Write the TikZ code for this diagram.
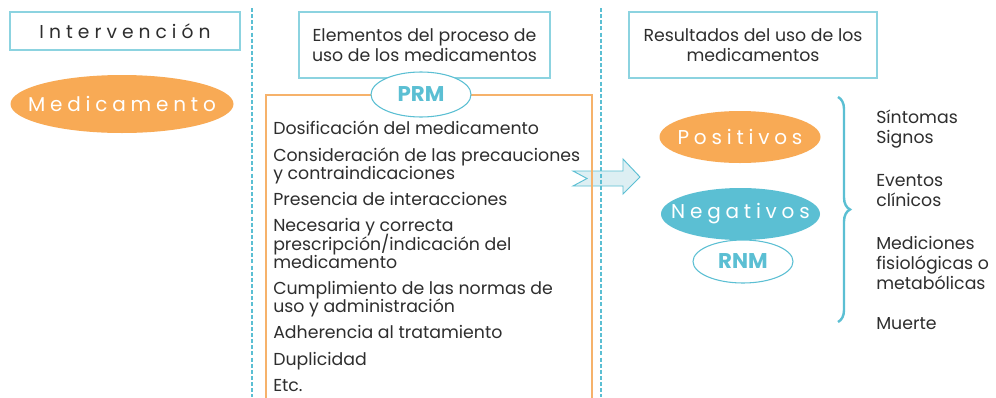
\documentclass[tikz,border=0pt]{standalone}
\usepackage{fontspec}
\setmainfont{Poppins}
\usetikzlibrary{shapes.geometric,decorations.pathreplacing}
\definecolor{cyanline}{HTML}{5BBFD3}
\definecolor{boxline}{HTML}{8CD3E0}
\definecolor{orangefill}{HTML}{F8AA55}
\definecolor{orangeline}{HTML}{F6B26B}
\definecolor{textgrey}{HTML}{2E2E2E}
\definecolor{arrowfill}{HTML}{DDEFF3}

\tikzset{
  titlebox/.style={draw=boxline, line width=0.9pt, align=center, text=textgrey,
    font=\fontsize{13}{15}\selectfont},
  bigoval/.style={ellipse, inner sep=0pt,
    label={[text=white, font=\fontsize{15}{17}\selectfont\addfontfeature{LetterSpace=24}]center:#1}},
  tagoval/.style={ellipse, draw=cyanline, fill=white, line width=0.8pt, inner sep=0pt,
    text=cyanline, font=\fontsize{16}{18}\selectfont\bfseries},
  listtext/.style={inner sep=0pt, align=left, text=textgrey},
  divider/.style={cyanline, line width=2.2pt, dash pattern=on 3pt off 1.6pt}
}

\begin{document}
\setlength{\lineskiplimit}{-20pt}
\begin{tikzpicture}[x=0.75pt,y=-0.75pt]
    \useasboundingbox (0,0) rectangle (996,397);
    \fill[white] (0,0) rectangle (996,397);
    % column titles
    \node[titlebox, minimum width=172.5pt, minimum height=28.5pt,
      font=\fontsize{14}{16}\selectfont\addfontfeature{LetterSpace=27}] (interv) at (125,31) {Intervención};
    \node[titlebox, minimum width=188.25pt, minimum height=49.5pt] (elem) at (424.5,45)
      {Elementos del proceso de\\uso de los medicamentos};
    \node[titlebox, minimum width=186pt, minimum height=49.5pt] (result) at (753,45)
      {Resultados del uso de los\\medicamentos};
    \node[bigoval=Medicamento, fill=orangefill, minimum width=167.25pt, minimum height=43.5pt] (medic) at (122,104) {};
    % arrow
    \draw[cyanline, fill=arrowfill, line width=0.7pt] (573,171) -- (623,171) -- (623,159) -- (640,177)
      -- (623,194) -- (623,186) -- (573,186) -- (587,178.5) -- cycle;
    % dashed dividers
    \draw[divider] (252,8) -- (252,397);
    \draw[divider] (601,8) -- (601,397);
    % process list
    \draw[orangeline, line width=0.8pt] (266,400) -- (266,95) -- (592,95) -- (592,400);
    \node[tagoval, minimum width=75pt, minimum height=33.75pt] (prm) at (421,94.5) {PRM};
    \node[listtext, anchor=north west, font=\fontsize{13}{13.6}\selectfont] (items) at (273,121)
      {Dosificación del medicamento\\[6.1pt]
       Consideración de las precauciones\\y contraindicaciones\\[6.1pt]
       Presencia de interacciones\\[6.1pt]
       Necesaria y correcta\\prescripción/indicación del\\medicamento\\[6.1pt]
       Cumplimiento de las normas de\\uso y administración\\[6.1pt]
       Adherencia al tratamiento\\[6.1pt]
       Duplicidad\\[6.1pt]
       Etc.};
    % outcomes
    \node[bigoval=Positivos, fill=orangefill, minimum width=120.75pt, minimum height=39pt] (posit) at (740,137) {};
    \node[bigoval=Negativos, fill=cyanline, minimum width=119.25pt, minimum height=39pt] (negat) at (740.5,214) {};
    \node[tagoval, minimum width=75pt, minimum height=32.25pt] (rnm) at (743,261.5) {RNM};
    \coordinate (bracetop) at (838,97);
    \coordinate (bracebot) at (838,322);
    \draw[cyanline, line width=1.8pt, decorate, decoration={brace, amplitude=9pt}] (bracetop) -- (bracebot);
    \node[listtext, anchor=north west, font=\fontsize{13}{15}\selectfont] (effects) at (876,110)
      {Síntomas\\Signos\\[17pt]
       Eventos\\clínicos\\[17pt]
       Mediciones\\fisiológicas o\\metabólicas\\[15pt]
       Muerte};
\end{tikzpicture}
\end{document}
